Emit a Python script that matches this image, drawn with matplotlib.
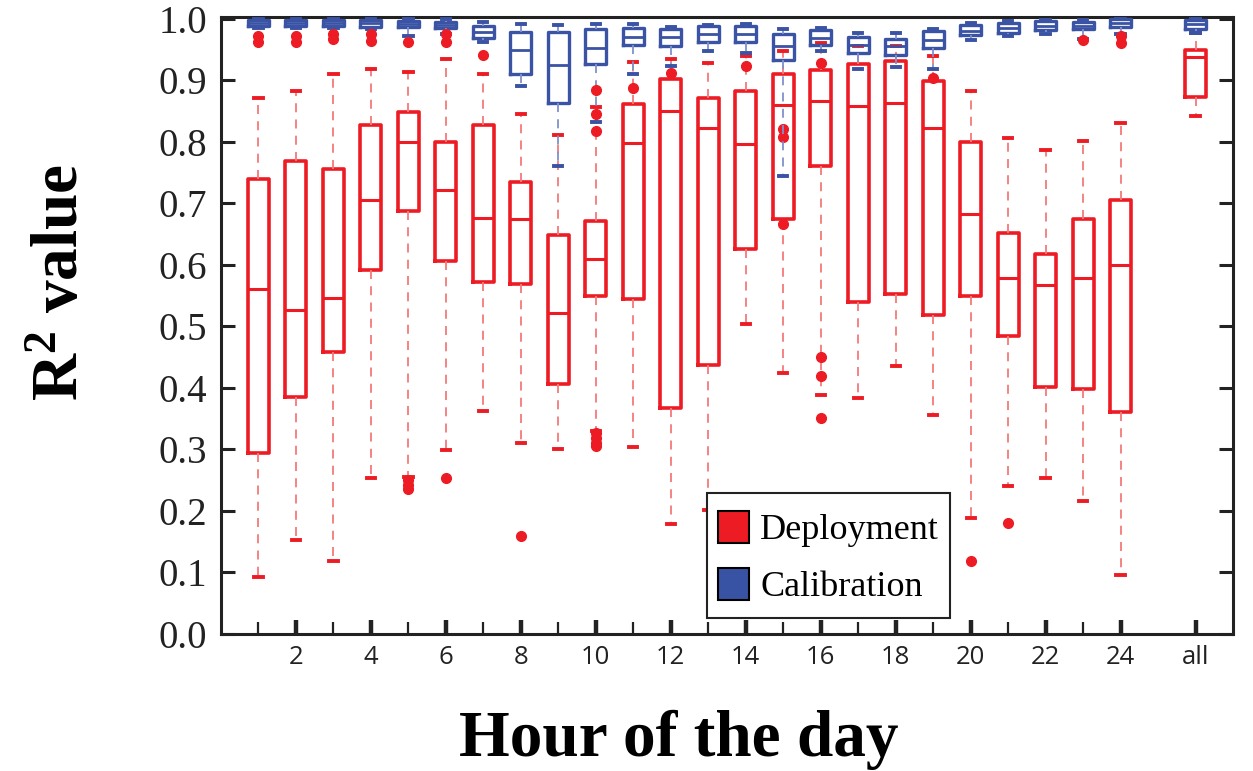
import matplotlib
matplotlib.use("Agg")
import matplotlib.pyplot as plt
from matplotlib.patches import Patch, Rectangle
from matplotlib.legend_handler import HandlerPatch

# ---------------- data ----------------
positions = list(range(1, 25)) + [26]
xtick_major = [2, 4, 6, 8, 10, 12, 14, 16, 18, 20, 22, 24, 26]
xtick_labels = ['2', '4', '6', '8', '10', '12', '14', '16', '18', '20', '22', '24', 'all']
xtick_minor = [1, 3, 5, 7, 9, 11, 13, 15, 17, 19, 21, 23]
yticks = [0.0, 0.1, 0.2, 0.3, 0.4, 0.5, 0.6, 0.7, 0.8, 0.9, 1.0]

# Deployment (red)
dep_lo  = [0.093, 0.153, 0.119, 0.253, 0.256, 0.299, 0.362, 0.311, 0.300, 0.330, 0.304, 0.179,
           0.201, 0.504, 0.424, 0.389, 0.384, 0.436, 0.356, 0.188, 0.240, 0.254, 0.216, 0.096, 0.842]
dep_q1  = [0.295, 0.386, 0.458, 0.591, 0.687, 0.607, 0.573, 0.569, 0.407, 0.550, 0.545, 0.367,
           0.438, 0.626, 0.674, 0.760, 0.540, 0.553, 0.518, 0.549, 0.485, 0.401, 0.399, 0.361, 0.873]
dep_med = [0.561, 0.527, 0.546, 0.706, 0.799, 0.722, 0.677, 0.674, 0.522, 0.609, 0.798, 0.850,
           0.823, 0.796, 0.860, 0.866, 0.859, 0.863, 0.822, 0.682, 0.579, 0.567, 0.579, 0.600, 0.938]
dep_q3  = [0.739, 0.769, 0.756, 0.827, 0.849, 0.799, 0.827, 0.734, 0.649, 0.671, 0.861, 0.902,
           0.872, 0.882, 0.911, 0.917, 0.927, 0.932, 0.899, 0.799, 0.652, 0.617, 0.675, 0.706, 0.949]
dep_hi  = [0.871, 0.883, 0.911, 0.919, 0.914, 0.934, 0.911, 0.846, 0.811, 0.856, 0.930, 0.934,
           0.929, 0.940, 0.948, 0.961, 0.956, 0.956, 0.940, 0.882, 0.807, 0.787, 0.801, 0.830, 0.977]
dep_fliers = [[], [], [], [], [0.250, 0.242, 0.235], [0.253], [], [0.160], [],
              [0.326, 0.318, 0.311, 0.305], [], [], [], [], [0.821, 0.808, 0.666],
              [0.450, 0.420, 0.351], [], [], [], [0.119], [0.181], [], [], [], []]

# Calibration (blue)
cal_lo  = [0.985, 0.985, 0.985, 0.984, 0.972, 0.975, 0.962, 0.891, 0.760, 0.832, 0.910, 0.923,
           0.948, 0.944, 0.744, 0.948, 0.919, 0.921, 0.919, 0.966, 0.972, 0.975, 0.968, 0.975, 0.977]
cal_q1  = [0.988, 0.988, 0.988, 0.987, 0.986, 0.985, 0.969, 0.911, 0.863, 0.927, 0.957, 0.956,
           0.962, 0.962, 0.933, 0.957, 0.945, 0.942, 0.953, 0.974, 0.977, 0.982, 0.983, 0.987, 0.984]
cal_med = [0.994, 0.994, 0.994, 0.993, 0.991, 0.990, 0.979, 0.949, 0.925, 0.953, 0.970, 0.970,
           0.975, 0.975, 0.956, 0.969, 0.957, 0.956, 0.966, 0.981, 0.985, 0.988, 0.988, 0.994, 0.991]
cal_q3  = [0.998, 0.998, 0.998, 0.998, 0.996, 0.995, 0.988, 0.978, 0.978, 0.984, 0.985, 0.984,
           0.988, 0.988, 0.975, 0.982, 0.971, 0.968, 0.980, 0.990, 0.994, 0.996, 0.995, 0.999, 0.998]
cal_hi  = [1.000, 1.000, 1.000, 1.000, 0.999, 0.999, 0.995, 0.992, 0.990, 0.992, 0.991, 0.987,
           0.990, 0.992, 0.984, 0.985, 0.977, 0.977, 0.984, 0.994, 0.997, 0.998, 0.998, 1.000, 1.000]
cal_fliers = [[0.972, 0.962], [0.972, 0.962], [0.975, 0.968], [0.975, 0.964], [0.963],
              [0.975, 0.963], [0.942], [], [], [0.884, 0.845, 0.817], [0.887], [0.912], [],
              [0.923], [], [0.928], [], [], [0.904], [], [], [], [0.966], [0.972, 0.960], []]

legend_labels = ['Deployment', 'Calibration']

# ---------------- styling ----------------
RED = '#ED1C24'
RED_W = '#F47A7A'
BLUE = '#3A53A4'
BLUE_W = '#8092CC'
SERIF = 'Liberation Serif'

plt.rcParams['mathtext.fontset'] = 'custom'
plt.rcParams['mathtext.rm'] = 'Liberation Serif:bold'
plt.rcParams['mathtext.bf'] = 'Liberation Serif:bold'
plt.rcParams['mathtext.default'] = 'bf'

fig = plt.figure(figsize=(12.53, 7.71), dpi=100)
ax = fig.add_axes([221 / 1253, 137 / 771, 1012 / 1253, 617 / 771])


def stats(lo, q1, med, q3, hi, fl):
    return [dict(whislo=a, q1=b, med=c, q3=d, whishi=e, fliers=f)
            for a, b, c, d, e, f in zip(lo, q1, med, q3, hi, fl)]


flier_style = dict(marker='o', markerfacecolor=RED, markeredgecolor=RED,
                   markersize=7, linestyle='none')

# deployment boxes
ax.bxp(stats(dep_lo, dep_q1, dep_med, dep_q3, dep_hi, dep_fliers), positions=positions,
       widths=0.56, showfliers=True, manage_ticks=False, zorder=2,
       boxprops=dict(color=RED, linewidth=2.6),
       medianprops=dict(color=RED, linewidth=2.2),
       whiskerprops=dict(color=RED_W, linewidth=1.3, linestyle=(0, (5, 4))),
       capprops=dict(color=RED, linewidth=2.8),
       capwidths=0.22,
       flierprops=flier_style)

# calibration boxes
cal = ax.bxp(stats(cal_lo, cal_q1, cal_med, cal_q3, cal_hi, cal_fliers), positions=positions,
             widths=0.56, showfliers=True, manage_ticks=False, zorder=3,
             boxprops=dict(color=BLUE, linewidth=2.4),
             medianprops=dict(color=BLUE, linewidth=2.0),
             whiskerprops=dict(color=BLUE_W, linewidth=1.3, linestyle=(0, (5, 4))),
             capprops=dict(color=BLUE, linewidth=2.8),
             capwidths=0.22,
             flierprops=flier_style)
for f in cal['fliers']:
    f.set_zorder(5)

ax.set_xlim(0, 27)
ax.set_ylim(0, 1.003)

ax.set_yticks(yticks)
ax.set_yticklabels(['%.1f' % v for v in yticks], fontfamily=SERIF, fontsize=28)
ax.set_xticks(xtick_major)
ax.set_xticklabels(xtick_labels, fontfamily='Open Sans', fontsize=18.5)
ax.set_xticks(xtick_minor, minor=True)

ax.tick_params(axis='y', which='major', direction='in', length=10, width=2.2,
               left=True, right=True, pad=10, colors='#222222')
ax.tick_params(axis='x', which='major', direction='in', length=10, width=3.2,
               bottom=True, top=False, pad=8, colors='#222222')
ax.tick_params(axis='x', which='minor', direction='in', length=9, width=1.6,
               bottom=True, top=False, colors='#222222')
for s in ax.spines.values():
    s.set_linewidth(2.2)
    s.set_color('#222222')

ax.set_ylabel('R$^2$ value', fontfamily=SERIF, fontweight='bold', fontsize=47, va='center')
ax.yaxis.set_label_coords(-0.158, 0.57)
ax.set_xlabel('Hour of the day', fontfamily=SERIF, fontweight='bold', fontsize=47, va='center')
ax.xaxis.set_label_coords(0.452, -0.172)


def square_patch(legend, orig_handle, xdescent, ydescent, width, height, fontsize):
    return Rectangle((-xdescent, -ydescent + (height - width) / 2.0), width, width)


handles = [Patch(facecolor=RED, edgecolor='black', linewidth=1.5),
           Patch(facecolor='#3953A4', edgecolor='black', linewidth=1.5)]
leg = ax.legend(handles, legend_labels, loc='lower left', bbox_to_anchor=(0.480, 0.026),
                prop=dict(family=SERIF, size=26), frameon=True, fancybox=False,
                edgecolor='#222222', framealpha=1, handlelength=0.88, handleheight=1.6,
                handletextpad=0.3, labelspacing=0.3, borderpad=0.3, borderaxespad=0,
                handler_map={Patch: HandlerPatch(patch_func=square_patch)})
leg.get_frame().set_linewidth(1.5)
leg.set_zorder(10)

fig.savefig('out.png', dpi=100)
